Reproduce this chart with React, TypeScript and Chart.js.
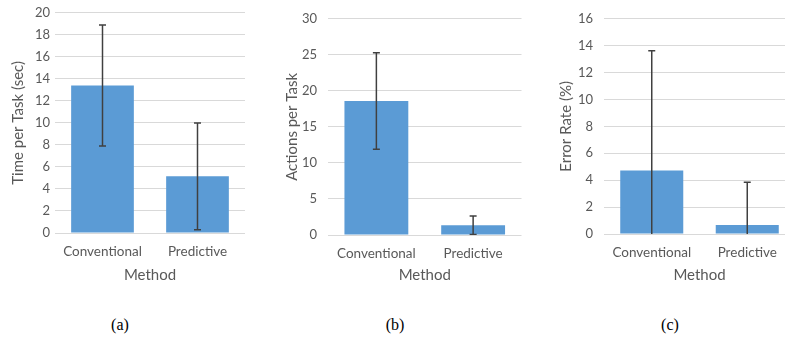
import React, { useEffect, useRef } from "react";
import { Chart, registerables } from "chart.js";

Chart.register(...registerables);

const categories = ["Conventional", "Predictive"];

const timeMeans = [13.4, 5.15];
const timeErrors = [5.5, 4.85];

const actionMeans = [18.6, 1.35];
const actionErrors = [6.7, 1.27];

const errorRateMeans = [4.73, 0.66];
const errorRateErrors = [8.9, 3.19];

const captions = ["(a)", "(b)", "(c)"];

const FONT = "Lato, 'Open Sans', sans-serif";
const TEXT = "#595959";

const errorBarPlugin = {
  id: "errorBars",
  afterDatasetsDraw(chart: any) {
    const ds: any = chart.data.datasets[0];
    const errs: number[] = ds.errors || [];
    const meta = chart.getDatasetMeta(0);
    const ys = chart.scales.y;
    const ctx = chart.ctx;
    const area = chart.chartArea;
    ctx.save();
    ctx.beginPath();
    ctx.rect(area.left, area.top - 2, area.right - area.left, area.bottom - area.top + 2);
    ctx.clip();
    ctx.strokeStyle = "#404040";
    ctx.lineWidth = 1.5;
    meta.data.forEach((bar: any, i: number) => {
      const v = ds.data[i] as number;
      const e = errs[i];
      const x = bar.x;
      const yHi = ys.getPixelForValue(v + e);
      const yLo = ys.getPixelForValue(v - e);
      const cap = 3.5;
      ctx.beginPath();
      ctx.moveTo(x, yHi);
      ctx.lineTo(x, yLo);
      ctx.moveTo(x - cap, yHi);
      ctx.lineTo(x + cap, yHi);
      ctx.moveTo(x - cap, yLo);
      ctx.lineTo(x + cap, yLo);
      ctx.stroke();
    });
    ctx.restore();
  },
};

type PanelProps = {
  left: number;
  width: number;
  height: number;
  plotLeft: number;
  plotRight: number;
  plotTop: number;
  plotBottom: number;
  values: number[];
  errors: number[];
  yMax: number;
  yStep: number;
  yTitle: string;
  yTitleCenter: number;
  yTickPad: number;
};

function Panel(p: PanelProps) {
  const ref = useRef<HTMLCanvasElement>(null);
  useEffect(() => {
    if (!ref.current) return;
    const chart = new Chart(ref.current, {
      type: "bar",
      data: {
        labels: categories,
        datasets: [
          {
            data: p.values,
            errors: p.errors,
            backgroundColor: "#5b9bd5",
            borderWidth: 0,
            barPercentage: 0.66,
            categoryPercentage: 1,
          } as any,
        ],
      },
      options: {
        animation: false,
        responsive: false,
        maintainAspectRatio: false,
        layout: {
          padding: { left: 0, top: p.plotTop, right: p.width - p.plotRight, bottom: 0 },
        },
        plugins: { legend: { display: false }, tooltip: { enabled: false } },
        scales: {
          x: {
            grid: { display: false, drawTicks: false },
            border: { display: false },
            ticks: { color: TEXT, font: { family: FONT, size: 13.5 }, padding: 11 },
            title: {
              display: true,
              text: "Method",
              color: TEXT,
              font: { family: FONT, size: 15 },
              padding: { top: 0, bottom: 6 },
            },
            afterFit: (s: any) => {
              s.height = p.height - p.plotBottom;
            },
          },
          y: {
            min: 0,
            max: p.yMax,
            grid: { color: "#d9d9d9", lineWidth: 1, drawTicks: false },
            border: { display: false },
            ticks: {
              stepSize: p.yStep,
              color: TEXT,
              font: { family: FONT, size: 13 },
              padding: p.yTickPad,
            },
            title: {
              display: true,
              text: p.yTitle,
              color: TEXT,
              font: { family: FONT, size: 15 },
              padding: { top: p.yTitleCenter - 9, bottom: 0 },
            },
            afterFit: (s: any) => {
              s.width = p.plotLeft;
            },
          },
        },
      } as any,
      plugins: [errorBarPlugin],
    });
    return () => chart.destroy();
  }, []);
  return (
    <div style={{ position: "absolute", left: p.left, top: 0, width: p.width, height: p.height }}>
      <canvas ref={ref} width={p.width} height={p.height} style={{ width: p.width, height: p.height }} />
    </div>
  );
}

export default function App() {
  return (
    <div
      style={{
        position: "absolute",
        left: 0,
        top: 0,
        width: 785,
        height: 339,
        overflow: "hidden",
        background: "#fff",
      }}
    >
      <Panel
        left={0}
        width={250}
        height={290}
        plotLeft={55}
        plotRight={245}
        plotTop={12}
        plotBottom={233}
        values={timeMeans}
        errors={timeErrors}
        yMax={20}
        yStep={2}
        yTitle="Time per Task (sec)"
        yTitleCenter={18}
        yTickPad={5}
      />
      <Panel
        left={260}
        width={265}
        height={290}
        plotLeft={68}
        plotRight={261.5}
        plotTop={18}
        plotBottom={235}
        values={actionMeans}
        errors={actionErrors}
        yMax={30}
        yStep={5}
        yTitle="Actions per Task"
        yTitleCenter={32}
        yTickPad={11}
      />
      <Panel
        left={520}
        width={280}
        height={290}
        plotLeft={84}
        plotRight={275}
        plotTop={16}
        plotBottom={234}
        values={errorRateMeans}
        errors={errorRateErrors}
        yMax={16}
        yStep={2}
        yTitle="Error Rate (%)"
        yTitleCenter={46}
        yTickPad={11}
      />
      {captions.map((c, i) => (
        <div
          key={c}
          style={{
            position: "absolute",
            left: [120, 395, 670][i] - 30,
            width: 60,
            top: 314,
            textAlign: "center",
            fontFamily: "'Liberation Serif', 'Times New Roman', serif",
            fontSize: 16,
            lineHeight: "22px",
            color: "#000",
          }}
        >
          {c}
        </div>
      ))}
    </div>
  );
}
